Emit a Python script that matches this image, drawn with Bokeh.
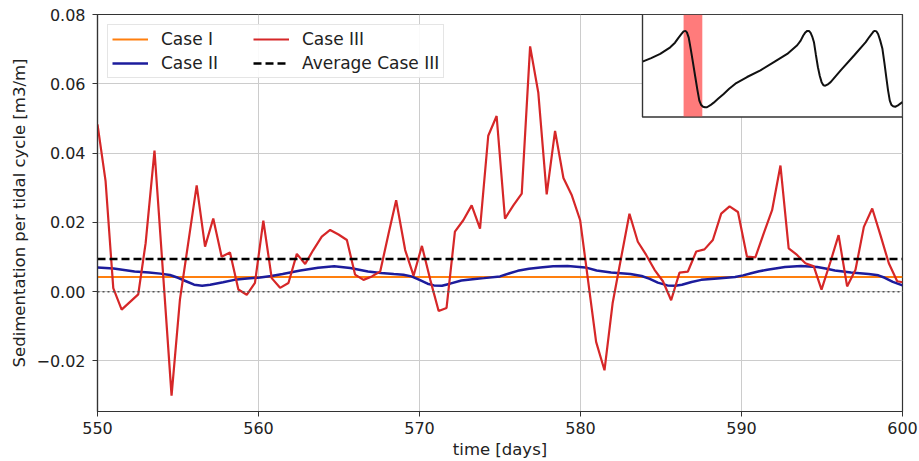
from bokeh.plotting import figure
from bokeh.models import (Range1d, FixedTicker, CustomJSTickFormatter, Legend,
                          LegendItem, Span)
from bokeh.embed import file_html
from bokeh.resources import INLINE

# ---------------- data ----------------
case3_t = [550.0, 550.5, 550.98, 551.5, 552.53, 552.99, 553.54, 554.6, 555.12,
           556.16, 556.68, 557.19, 557.71, 558.23, 558.75, 559.27, 559.78,
           560.3, 560.82, 561.34, 561.86, 562.38, 562.9, 563.4, 563.93,
           564.45, 564.97, 565.49, 566.0, 566.52, 567.04, 567.56, 568.08,
           568.55, 569.11, 569.63, 570.15, 570.67, 571.19, 571.68, 572.2,
           572.72, 573.24, 573.76, 574.27, 574.79, 575.31, 575.83, 576.35,
           576.87, 577.38, 577.9, 578.42, 578.94, 579.46, 579.98, 580.97,
           581.49, 582.0, 582.52, 583.04, 583.56, 584.08, 584.6, 585.12,
           585.63, 586.15, 586.67, 587.19, 587.7, 588.22, 588.74, 589.26,
           589.78, 590.34, 590.86, 591.38, 591.9, 592.42, 592.93, 593.45,
           593.97, 594.49, 594.97, 595.53, 596.03, 596.56, 597.08, 597.6,
           598.12, 598.63, 599.15, 599.67, 600.0]
case3_v = [0.0483, 0.032, 0.001, -0.0052, -0.0008, 0.014, 0.0407, -0.030, -0.0023,
           0.0307, 0.013, 0.0211, 0.0101, 0.0113, 0.0006, -0.0009, 0.0025,
           0.0205, 0.0039, 0.0011, 0.0025, 0.0109, 0.008, 0.012, 0.0159,
           0.0178, 0.0165, 0.0149, 0.0049, 0.0034, 0.0044, 0.0058, 0.0168,
           0.0264, 0.012, 0.0046, 0.0132, 0.0034, -0.0056, -0.0047, 0.0173,
           0.0206, 0.0249, 0.0182, 0.045, 0.0507, 0.0211, 0.0249, 0.0283,
           0.0708, 0.0574, 0.0281, 0.0464, 0.0328, 0.0278, 0.0206, -0.0145,
           -0.0227, -0.0032, 0.0097, 0.0225, 0.0144, 0.0106, 0.0063, 0.003,
           -0.0025, 0.0055, 0.0058, 0.0116, 0.0122, 0.0149, 0.0225, 0.0246,
           0.023, 0.0101, 0.0099, 0.0168, 0.0235, 0.0364, 0.0125, 0.0106,
           0.0082, 0.0073, 0.0006, 0.0087, 0.0163, 0.0015, 0.0063, 0.0187,
           0.024, 0.0163, 0.0082, 0.003, 0.0027]

case2_t = [550.0, 551.0, 552.3, 553.2, 553.9, 554.5, 555.0, 555.5, 556.0, 556.5,
           557.0, 557.8, 558.5, 559.3, 560.1, 560.8, 561.5, 562.6, 563.7, 564.7,
           565.7, 566.8, 567.6, 568.4, 569.0, 569.5, 570.0, 570.5, 570.9, 571.4,
           571.9, 572.6, 573.3, 574.0, 575.0, 575.6, 576.1, 576.8, 577.5, 578.3,
           579.2, 580.3, 581.0, 581.9, 583.1, 583.8, 584.3, 584.8, 585.4, 585.9,
           586.3, 586.9, 587.5, 588.5, 589.6, 590.1, 590.6, 591.1, 591.6, 592.7,
           593.7, 594.7, 595.3, 595.8, 596.8, 597.9, 598.5, 598.9, 599.4, 600.0]
case2_v = [0.0070, 0.0067, 0.0058, 0.0055, 0.0052, 0.0048, 0.0040, 0.0030, 0.0020,
           0.0017, 0.0020, 0.0027, 0.0034, 0.0038, 0.0041, 0.0045, 0.0051, 0.0061,
           0.0069, 0.0073, 0.0068, 0.0058, 0.0054, 0.0051, 0.0049, 0.0044, 0.0034,
           0.0023, 0.0018, 0.0017, 0.0023, 0.0032, 0.0036, 0.0039, 0.0044, 0.0053,
           0.0060, 0.0066, 0.0070, 0.0073, 0.0074, 0.0070, 0.0061, 0.0055, 0.0051,
           0.0045, 0.0037, 0.0026, 0.0018, 0.0017, 0.0020, 0.0028, 0.0034, 0.0038,
           0.0042, 0.0047, 0.0053, 0.0059, 0.0063, 0.0071, 0.0074, 0.0071, 0.0066,
           0.0061, 0.0055, 0.0051, 0.0047, 0.0040, 0.0028, 0.0018]

case1_t = [550.0, 600.0]
case1_v = [0.0042, 0.0042]

avg_case3_t = [550.0, 600.0]
avg_case3_v = [0.0094, 0.0094]

# inset: tidal signal (hours, normalised level)
inset_hours = [0.0, 1.2, 2.45, 3.84, 4.5, 5.0, 5.4, 5.69, 5.95, 6.15, 6.4, 6.71,
               7.0, 7.31, 7.6, 7.87, 8.1, 8.38, 8.65, 8.93, 9.4, 9.86, 10.5,
               11.24, 12.0, 12.86, 14.48, 16.33, 18.19, 20.04, 21.42, 21.9,
               22.26, 22.55, 22.81, 23.05, 23.28, 23.5, 23.74, 24.0, 24.29,
               24.55, 24.8, 25.05, 25.31, 25.6, 26.05, 27.44, 29.29, 30.91,
               31.4, 31.84, 32.0, 32.16, 32.4, 32.62, 32.9, 33.22, 33.5, 33.78,
               34.0, 34.24, 34.45, 34.7, 35.0, 35.31, 35.7, 36.0]
inset_level = [0.08, 0.15, 0.23, 0.36, 0.45, 0.55, 0.62, 0.67, 0.68, 0.65, 0.55,
               0.30, 0.05, -0.22, -0.47, -0.68, -0.76, -0.80, -0.81, -0.81,
               -0.77, -0.72, -0.64, -0.55, -0.45, -0.35, -0.22, -0.09, 0.07,
               0.23, 0.40, 0.49, 0.59, 0.65, 0.68, 0.68, 0.64, 0.57, 0.46, 0.22,
               -0.03, -0.20, -0.32, -0.38, -0.39, -0.37, -0.32, -0.09, 0.20,
               0.46, 0.56, 0.64, 0.67, 0.68, 0.67, 0.62, 0.50, 0.33, 0.05, -0.25,
               -0.48, -0.68, -0.76, -0.79, -0.80, -0.78, -0.74, -0.71]
inset_band = [5.69, 8.28]
inset_level_limits = [-1.0, 1.0]

x_ticks = [550, 560, 570, 580, 590, 600]
y_ticks = [-0.02, 0.0, 0.02, 0.04, 0.06, 0.08]

# ---------------- figure ----------------
FONT = "DejaVu Sans"
W, H = 919, 461
ML, MR, MT, MB = 97, 17, 14, 48
frame_w = W - ML - MR
frame_h = H - MT - MB

p = figure(width=W, height=H, output_backend="svg", toolbar_location=None,
           x_range=Range1d(550, 600), y_range=Range1d(-0.0346, 0.08),
           min_border_left=ML, min_border_right=MR, min_border_top=MT,
           min_border_bottom=MB)
p.background_fill_color = "white"
p.border_fill_color = "white"
p.outline_line_color = "#333333"
p.outline_line_width = 1.2

for ax in (p.xaxis[0], p.yaxis[0]):
    ax.axis_line_color = "#333333"
    ax.axis_line_width = 1.2
    ax.major_tick_line_color = "#333333"
    ax.major_tick_out = 5
    ax.major_tick_in = 0
    ax.minor_tick_line_color = None
    ax.major_label_text_font = FONT
    ax.major_label_text_font_size = "16px"
    ax.major_label_text_color = "#222222"
    ax.axis_label_text_font = FONT
    ax.axis_label_text_font_size = "16.5px"
    ax.axis_label_text_font_style = "normal"
    ax.axis_label_text_color = "#222222"

p.xaxis.ticker = FixedTicker(ticks=x_ticks)
p.yaxis.ticker = FixedTicker(ticks=y_ticks)
p.yaxis.formatter = CustomJSTickFormatter(
    code="return tick.toFixed(2).replace('-', '\u2212');")
p.xaxis.axis_label = "time [days]"
p.yaxis.axis_label = "Sedimentation per tidal cycle [m3/m]"
p.xaxis.major_label_standoff = 5
p.yaxis.major_label_standoff = 7
p.xaxis.axis_label_standoff = 3
p.yaxis.axis_label_standoff = 4

p.xgrid.grid_line_color = "#cccccc"
p.ygrid.grid_line_color = "#cccccc"
p.xgrid.grid_line_width = 1
p.ygrid.grid_line_width = 1

zero = Span(location=0, dimension="width", line_color="#555555",
            line_width=1.5, line_dash="2 3")
p.add_layout(zero)

r1 = p.line(case1_t, case1_v, line_color="#ff7f0e", line_width=2)
r2 = p.line(case2_t, case2_v, line_color="#1c1c9c", line_width=2.5)
r3 = p.line(case3_t, case3_v, line_color="#d62728", line_width=2.2)
r4 = p.line(avg_case3_t, avg_case3_v, line_color="black", line_width=2.5,
            line_dash="8 4")

legend = Legend(items=[LegendItem(label="Case I", renderers=[r1]),
                       LegendItem(label="Case II", renderers=[r2]),
                       LegendItem(label="Case III", renderers=[r3]),
                       LegendItem(label="Average Case III", renderers=[r4])],
                ncols=2, location="top_left")
legend.label_text_font = FONT
legend.label_text_font_size = "17px"
legend.label_text_color = "#222222"
legend.glyph_width = 36
legend.glyph_height = 20
legend.label_height = 20
legend.label_width = 88
legend.label_standoff = 13
legend.spacing = 4
legend.padding = 4
legend.margin = 10
legend.border_line_color = "#cccccc"
legend.border_line_width = 1
legend.background_fill_alpha = 0.9
p.add_layout(legend)

# ---------------- inset (own ranges, upper-right corner) ----------------
inset_frac_w = 260 / frame_w
inset_frac_h = 103 / frame_h
ix0, ix1 = min(inset_hours), max(inset_hours)
iy0, iy1 = inset_level_limits
p.extra_x_ranges = {"ix": Range1d(ix1 - (ix1 - ix0) / inset_frac_w, ix1)}
p.extra_y_ranges = {"iy": Range1d(iy1 - (iy1 - iy0) / inset_frac_h, iy1)}

p.quad(left=[ix0], right=[ix1], bottom=[iy0], top=[iy1],
       x_range_name="ix", y_range_name="iy",
       fill_color="white", line_color="#333333", line_width=1.2)
p.quad(left=[inset_band[0]], right=[inset_band[1]], bottom=[iy0], top=[iy1],
       x_range_name="ix", y_range_name="iy",
       fill_color="#ff7b7b", line_color=None)
p.line(inset_hours, inset_level, x_range_name="ix", y_range_name="iy",
       line_color="#111111", line_width=2)
p.quad(left=[ix0], right=[ix1], bottom=[iy0], top=[iy1],
       x_range_name="ix", y_range_name="iy",
       fill_color=None, line_color="#333333", line_width=1.2)

open("out.html", "w").write(file_html(p, INLINE))
